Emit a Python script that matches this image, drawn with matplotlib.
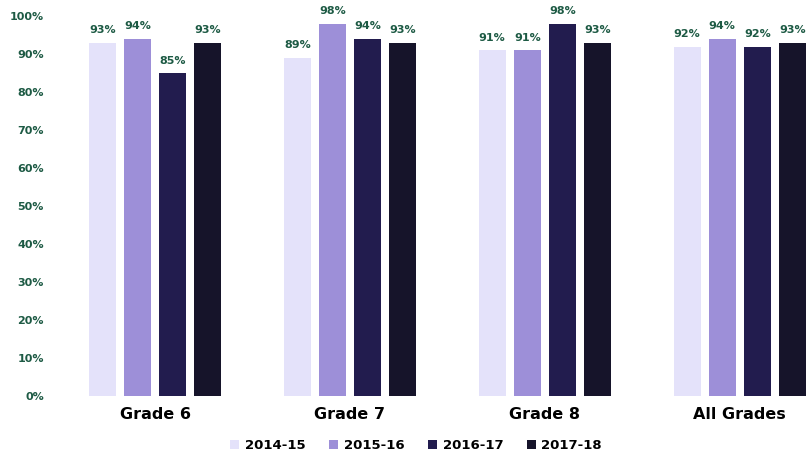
import matplotlib.pyplot as plt
import numpy as np

grades = ['Grade 6', 'Grade 7', 'Grade 8', 'All Grades']
years = ['2014-15', '2015-16', '2016-17', '2017-18']
v_1415 = [93, 89, 91, 92]
v_1516 = [94, 98, 91, 94]
v_1617 = [85, 94, 98, 92]
v_1718 = [93, 93, 93, 93]
colors = ['#e4e2fa', '#9d8fd8', '#221c4e', '#16142a']
txt = '#1d5a44'

series = [v_1415, v_1516, v_1617, v_1718]

fig = plt.figure(figsize=(8.08, 4.62), dpi=100)
ax = fig.add_axes([0.099, 0.143, 0.901, 0.822])

x = np.arange(len(grades))
step = 0.18
width = 0.14
for i, (vals, c) in enumerate(zip(series, colors)):
    pos = x + (i - 1.5) * step
    ax.bar(pos, vals, width, color=c, label=years[i])
    for p, v in zip(pos, vals):
        ax.text(p, v + 2, f'{v}%', ha='center', va='bottom',
                fontsize=8, fontweight='bold', color=txt)

ax.set_ylim(0, 100)
ax.set_xlim(-0.385, 3.35)
ax.set_yticks(range(0, 101, 10))
ax.set_yticklabels([f'{t}%' for t in range(0, 101, 10)])
ax.set_xticks(x)
ax.set_xticklabels(grades, fontsize=11.5, fontweight='bold')
for s in ax.spines.values():
    s.set_visible(False)
ax.tick_params(axis='y', length=0, pad=26, labelsize=8, labelcolor=txt)
ax.tick_params(axis='x', length=0, pad=8)
for lab in ax.get_yticklabels():
    lab.set_fontweight('bold')

fig.legend(loc='lower center', bbox_to_anchor=(0.515, -0.005), ncol=4,
           frameon=False, handlelength=0.7, handleheight=0.7,
           handletextpad=0.4, columnspacing=1.8,
           prop={'size': 9.5, 'weight': 'bold'})

plt.savefig('out.png')
